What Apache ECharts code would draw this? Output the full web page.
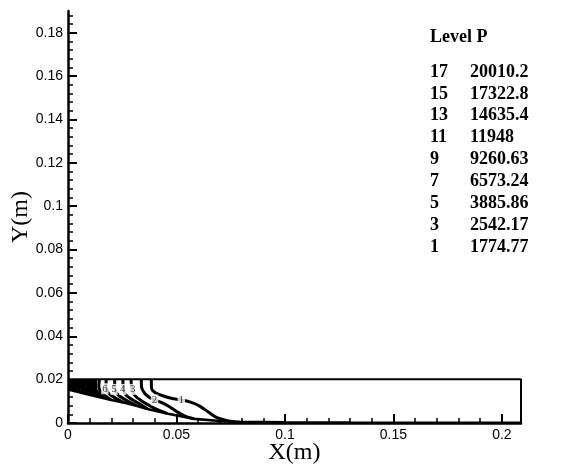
<!DOCTYPE html>
<html><head><meta charset="utf-8">
<script src="https://cdn.jsdelivr.net/npm/echarts@6/dist/echarts.min.js"></script>
<style>html,body{margin:0;padding:0;background:#fff}#c{width:565px;height:470px}</style>
</head><body><div id="c"></div>
<script>
// axis ticks
const xTicks = [0, 0.05, 0.1, 0.15, 0.2];
const xTickLabels = ['0', '0.05', '0.1', '0.15', '0.2'];
const yTicks = [0, 0.02, 0.04, 0.06, 0.08, 0.1, 0.12, 0.14, 0.16, 0.18];
const yTickLabels = ['0', '0.02', '0.04', '0.06', '0.08', '0.1', '0.12', '0.14', '0.16', '0.18'];
const xMax = 0.2088, yMax = 0.19;
// domain rectangle
const domainBox = [[0, 0.0202], [0.2088, 0.0202], [0.2088, 0]];
// lower boundary of the flow
const boundary = [[0, 0.0155], [0.0122, 0.0125], [0.0199, 0.0106], [0.0261, 0.0094], [0.0315, 0.0080], [0.0361, 0.0066], [0.0461, 0.0043], [0.0584, 0.0019], [0.0699, 0.0009], [0.0791, 0.0005], [0.1, 0.0003], [0.13, 0.0002], [0.2088, 0.0001]];
// contour lines (level index -> polyline)
const contour1 = [[0.0384, 0.0202], [0.0385, 0.0160], [0.0399, 0.0142], [0.0430, 0.0128], [0.0476, 0.0114], [0.0522, 0.0106], [0.0568, 0.0095], [0.0607, 0.0078], [0.0645, 0.0052], [0.0684, 0.0026], [0.0730, 0.0012], [0.0768, 0.0006]];
const contour2 = [[0.0338, 0.0202], [0.0339, 0.0165], [0.0353, 0.0137], [0.0376, 0.0118], [0.0399, 0.0106], [0.0430, 0.0095], [0.0468, 0.0075], [0.0507, 0.0049], [0.0545, 0.0029], [0.0579, 0.0020]];
const contour3 = [[0.0291, 0.0202], [0.0295, 0.0155], [0.0310, 0.0125], [0.0338, 0.0103], [0.0376, 0.0080], [0.0415, 0.0060], [0.0456, 0.0044]];
const contour4 = [[0.0253, 0.0202], [0.0255, 0.0155], [0.0268, 0.0128], [0.0299, 0.0106], [0.0338, 0.0083], [0.0366, 0.0066]];
const contour5 = [[0.0215, 0.0202], [0.0216, 0.0155], [0.0230, 0.0131], [0.0261, 0.0109], [0.0299, 0.0088], [0.0316, 0.0081]];
const contour6 = [[0.0176, 0.0202], [0.0175, 0.0160], [0.0187, 0.0137], [0.0215, 0.0117], [0.0253, 0.0096]];
const contour7 = [[0.0145, 0.0202], [0.0142, 0.0168], [0.0152, 0.0143], [0.0176, 0.0122], [0.0199, 0.0107]];
const contour8 = [[0.0128, 0.0202], [0.0126, 0.0170], [0.0132, 0.0146], [0.0150, 0.0128], [0.0163, 0.0117]];
const contour9 = [[0.0114, 0.0202], [0.0112, 0.0172], [0.0118, 0.0148], [0.0132, 0.0130], [0.0140, 0.0121]];
const contour10 = [[0.0100, 0.0202], [0.0099, 0.0172], [0.0104, 0.0150], [0.0115, 0.0127]];
const contour11 = [[0.0087, 0.0202], [0.0086, 0.0174], [0.0090, 0.0152], [0.0098, 0.0131]];
const contour12 = [[0.0074, 0.0202], [0.0073, 0.0176], [0.0077, 0.0155], [0.0082, 0.0135]];
const contour13 = [[0.0061, 0.0202], [0.0061, 0.0178], [0.0064, 0.0158], [0.0066, 0.0139]];
const contour14 = [[0.0048, 0.0202], [0.0048, 0.0180], [0.0050, 0.0160], [0.0052, 0.0142]];
const contour15 = [[0.0036, 0.0202], [0.0036, 0.0170], [0.0038, 0.0146]];
const contour16 = [[0.0024, 0.0202], [0.0024, 0.0170], [0.0025, 0.0149]];
const contour17 = [[0.0012, 0.0202], [0.0012, 0.0152]];
const contours = [contour1, contour2, contour3, contour4, contour5, contour6, contour7, contour8, contour9, contour10, contour11, contour12, contour13, contour14, contour15, contour16, contour17];
// inline contour labels [x, y, text]
const contourLabels = [[0.0522, 0.0106, '1'], [0.0399, 0.0106, '2'], [0.0299, 0.0155, '3'], [0.0252, 0.0155, '4'], [0.0212, 0.0155, '5'], [0.0170, 0.0158, '6']];
// legend table
const legendTitle = 'Level P';
const legendLevels = ['17', '15', '13', '11', '9', '7', '5', '3', '1'];
const legendValues = ['20010.2', '17322.8', '14635.4', '11948', '9260.63', '6573.24', '3885.86', '2542.17', '1774.77'];

const xMinor = [], yMinor = [];
for (let i = 1; i * 0.01 < xMax; i++) if (i % 5) xMinor.push(+(i * 0.01).toFixed(4));
for (let i = 1; i * 0.004 < yMax; i++) if (i % 5) yMinor.push(+(i * 0.004).toFixed(4));

const G = { left: 68, right: 44, top: 11, bottom: 47, containLabel: false, outerBoundsMode: 'none' };
const black = '#000';
const tickFont = { color: black, fontFamily: '"Liberation Sans", Arial, sans-serif', fontSize: 14 };
const legendFont = 'bold 18px "Liberation Serif"';

const series = [];
series.push({ type: 'line', data: boundary, symbol: 'none', lineStyle: { color: black, width: 2.6 }, clip: false, z: 3 });
contours.forEach((c, i) => series.push({ type: 'line', data: c, symbol: 'none', smooth: 0.35, lineStyle: { color: black, width: i < 7 ? 3 : 3.4 }, clip: false, z: 3 }));
series.push({ type: 'line', data: domainBox, symbol: 'none', lineStyle: { color: black, width: 2 }, clip: false, z: 3 });
series.push({
  type: 'scatter', data: contourLabels, symbolSize: 0, z: 6,
  label: { show: true, position: 'inside', formatter: p => p.data[2], color: black,
    fontFamily: '"Liberation Serif", serif', fontSize: 11, backgroundColor: '#fff', padding: [0, 1] }
});

const legendEls = [{ type: 'text', x: 430, y: 37, style: { text: legendTitle, font: legendFont, fill: black, verticalAlign: 'middle' } }];
legendLevels.forEach((l, i) => {
  legendEls.push({ type: 'text', x: 430, y: 72 + i * 21.9, style: { text: l, font: legendFont, fill: black, verticalAlign: 'middle' } });
  legendEls.push({ type: 'text', x: 470, y: 72 + i * 21.9, style: { text: legendValues[i], font: legendFont, fill: black, verticalAlign: 'middle' } });
});

const chart = echarts.init(document.getElementById('c'), null, { renderer: 'canvas' });
chart.setOption({
  animation: false,
  backgroundColor: '#fff',
  grid: [Object.assign({}, G), Object.assign({}, G)],
  xAxis: [
    { gridIndex: 0, type: 'value', min: 0, max: xMax,
      axisLine: { show: true, onZero: false, lineStyle: { color: black, width: 2.5 } },
      axisTick: { show: true, inside: true, length: 9, customValues: xTicks, lineStyle: { color: black, width: 2 } },
      axisLabel: { customValues: xTicks, formatter: v => xTickLabels[xTicks.indexOf(+v.toFixed(4))] ?? '', margin: 5, ...tickFont },
      splitLine: { show: false },
      name: 'X(m)', nameLocation: 'middle', nameGap: 18, nameMoveOverlap: false,
      nameTextStyle: { color: black, fontFamily: '"Liberation Serif", serif', fontSize: 24 } },
    { gridIndex: 1, type: 'value', min: 0, max: xMax,
      axisLine: { show: false },
      axisTick: { show: true, inside: true, length: 5, customValues: xMinor, lineStyle: { color: black, width: 1.5 } },
      axisLabel: { show: false }, splitLine: { show: false } }
  ],
  yAxis: [
    { gridIndex: 0, type: 'value', min: 0, max: yMax,
      axisLine: { show: true, onZero: false, lineStyle: { color: black, width: 2.5 } },
      axisTick: { show: true, inside: true, length: 9, customValues: yTicks, lineStyle: { color: black, width: 2 } },
      axisLabel: { customValues: yTicks, formatter: v => yTickLabels[yTicks.indexOf(+v.toFixed(4))] ?? '', margin: 5, ...tickFont },
      splitLine: { show: false },
      name: 'Y(m)', nameLocation: 'middle', nameGap: 35, nameRotate: 90, nameMoveOverlap: false,
      nameTextStyle: { color: black, fontFamily: '"Liberation Serif", serif', fontSize: 24 } },
    { gridIndex: 1, type: 'value', min: 0, max: yMax,
      axisLine: { show: false },
      axisTick: { show: true, inside: true, length: 5, customValues: yMinor, lineStyle: { color: black, width: 1.5 } },
      axisLabel: { show: false }, splitLine: { show: false } }
  ],
  series: series,
  graphic: { elements: legendEls }
});
</script></body></html>
